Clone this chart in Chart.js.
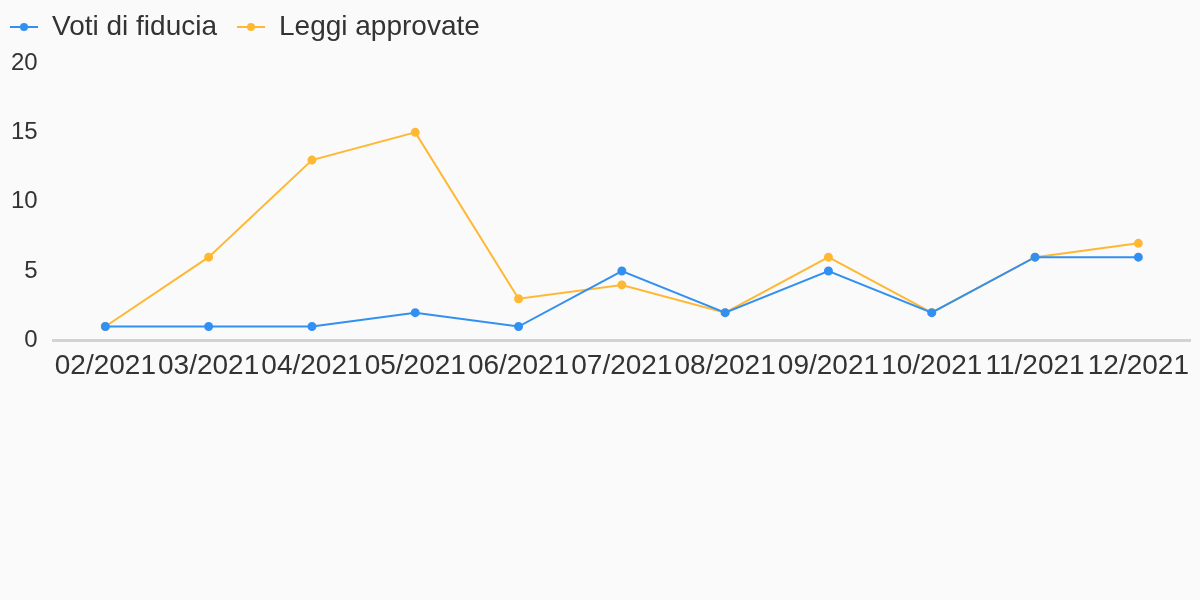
<!DOCTYPE html>
<html>
<head>
<meta charset="utf-8">
<script src="https://cdn.jsdelivr.net/npm/chart.js@4"></script>
<style>
  html, body { margin: 0; padding: 0; background: #fafafa; }
  #wrap { width: 1200px; height: 392px; position: relative; }
</style>
</head>
<body>
<div id="wrap"><canvas id="chart"></canvas></div>
<script>
// categories and series
const months = ['02/2021', '03/2021', '04/2021', '05/2021', '06/2021', '07/2021', '08/2021', '09/2021', '10/2021', '11/2021', '12/2021'];
const votiFiducia = [1, 1, 1, 2, 1, 5, 2, 5, 2, 6, 6];
const leggiApprovate = [1, 6, 13, 15, 3, 4, 2, 6, 2, 6, 7];
const yTicks = [0, 5, 10, 15, 20];

const blue = '#3290f0';
const orange = '#ffb833';
const fontFamily = '"Liberation Sans", Arial, sans-serif';

// small line+dot marker for the legend
function legendMarker(color) {
    let c = document.createElement('canvas');
    c.width = 28;
    c.height = 10;
    let g = c.getContext('2d');
    g.strokeStyle = color;
    g.lineWidth = 2;
    g.beginPath();
    g.moveTo(0, 5);
    g.lineTo(28, 5);
    g.stroke();
    g.fillStyle = color;
    g.beginPath();
    g.arc(14, 5, 4, 0, Math.PI * 2);
    g.fill();
    return c;
}

// nudge the legend up/left so items get a wider gap but stay at the edge
const legendNudge = {
    id: 'legendNudge',
    afterLayout: function(chart) {
        let lg = chart.legend;
        lg.left -= 5;
        lg.right -= 5;
        lg.top -= 12;
        lg.bottom -= 12;
    }
};

var ctx = document.getElementById('chart');

var chart = new Chart(ctx, {
    type: 'line',
    data: {
        labels: months,
        datasets: [{
            label: 'Voti di fiducia',
            data: votiFiducia,
            borderColor: blue,
            backgroundColor: blue,
            borderWidth: 2,
            pointRadius: 3.5,
            pointHoverRadius: 3.5,
            tension: 0
        }, {
            label: 'Leggi approvate',
            data: leggiApprovate,
            borderColor: orange,
            backgroundColor: orange,
            borderWidth: 2,
            pointRadius: 3.5,
            pointHoverRadius: 3.5,
            tension: 0
        }]
    },
    plugins: [legendNudge],
    options: {
        responsive: true,
        maintainAspectRatio: false,
        animation: false,
        layout: { padding: { left: -5, right: 10, top: 5, bottom: 0 } },
        plugins: {
            tooltip: { enabled: false },
            legend: {
                position: 'top',
                align: 'start',
                labels: {
                    color: '#333333',
                    font: { family: fontFamily, size: 28 },
                    usePointStyle: true,
                    padding: 20,
                    generateLabels: function(chart) {
                        return chart.data.datasets.map(function(ds, i) {
                            return {
                                text: ds.label,
                                fontColor: '#333333',
                                pointStyle: legendMarker(ds.borderColor),
                                datasetIndex: i,
                                hidden: false,
                                lineWidth: 0
                            };
                        });
                    }
                }
            }
        },
        scales: {
            x: {
                offset: true,
                grid: { display: false, drawTicks: false },
                border: { display: true, color: '#d3d3d3', width: 3 },
                ticks: {
                    color: '#333333',
                    font: { family: fontFamily, size: 28 },
                    maxRotation: 0,
                    autoSkip: false,
                    padding: 9
                }
            },
            y: {
                min: yTicks[0],
                max: yTicks[yTicks.length - 1],
                afterBuildTicks: function(axis) {
                    axis.ticks = yTicks.map(function(v) { return { value: v }; });
                },
                grid: { display: false, drawTicks: false },
                border: { display: false },
                ticks: {
                    color: '#333333',
                    font: { family: fontFamily, size: 24 },
                    padding: 16
                }
            }
        }
    }
});
</script>
</body>
</html>
